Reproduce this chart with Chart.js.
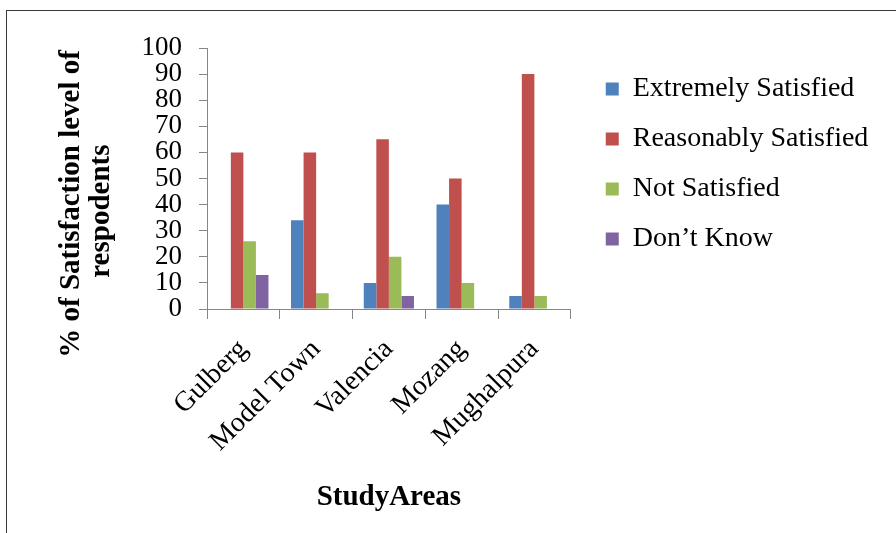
<!DOCTYPE html>
<html>
<head>
<meta charset="utf-8">
<script src="https://cdn.jsdelivr.net/npm/chart.js@4"></script>
<style>
  html, body { margin: 0; padding: 0; background: #fff; }
  #wrap { position: relative; width: 896px; height: 533px; overflow: hidden; }
  #frame { position: absolute; left: 6px; top: 10px; right: -5px; bottom: -5px;
           border-left: 1.5px solid #3a3a3a; border-top: 1.5px solid #3a3a3a; }
  canvas { position: absolute; left: 0; top: 0; }
</style>
</head>
<body>
<div id="wrap">
  <div id="frame"></div>
  <canvas id="chart" width="896" height="533"></canvas>
</div>
<script>
const areas = ['Gulberg', 'Model Town', 'Valencia', 'Mozang', 'Mughalpura'];
const extremelySatisfied = [0, 34, 10, 40, 5];
const reasonablySatisfied = [60, 60, 65, 50, 90];
const notSatisfied = [26, 6, 20, 10, 5];
const dontKnow = [13, 0, 5, 0, 0];

const serif = "'Liberation Serif', 'Times New Roman', serif";
const axisGrey = '#868686';

Chart.defaults.color = '#000';
Chart.defaults.font.family = serif;

// legend box is capped by the layout, so widen it and shift it a bit
const legendNudge = {
  id: 'legendNudge',
  afterLayout(chart) {
    chart.legend.left += 13;
    chart.legend.right = chart.width;
    chart.legend.top += 5;
  }
};

new Chart(document.querySelector('#chart').getContext('2d'), {
  type: 'bar',
  data: {
    labels: areas,
    datasets: [
      { label: 'Extremely Satisfied', data: extremelySatisfied, backgroundColor: '#4F81BD' },
      { label: 'Reasonably Satisfied', data: reasonablySatisfied, backgroundColor: '#C0504D' },
      { label: 'Not Satisfied', data: notSatisfied, backgroundColor: '#9BBB59' },
      { label: 'Don\u2019t Know', data: dontKnow, backgroundColor: '#8064A2' }
    ]
  },
  options: {
    responsive: false,
    animation: false,
    devicePixelRatio: 1,
    categoryPercentage: 0.69,
    barPercentage: 1,
    layout: { padding: { top: 48, right: 135, bottom: 0, left: 0 } },
    plugins: {
      tooltip: { enabled: false },
      legend: {
        position: 'right',
        align: 'start',
        labels: {
          boxWidth: 13,
          boxHeight: 13,
          padding: 22,
          font: { size: 28, family: serif }
        }
      }
    },
    scales: {
      x: {
        afterFit(scale) { scale.height = 224; },
        grid: { drawOnChartArea: false, offset: true, tickLength: 10, color: axisGrey },
        border: { color: axisGrey },
        ticks: {
          autoSkip: false, minRotation: 45, maxRotation: 45, padding: 14,
          font: { size: 28, family: serif }
        },
        title: {
          display: true,
          text: 'StudyAreas',
          font: { size: 29, weight: 'bold', family: serif, lineHeight: '30px' },
          padding: { top: 0, bottom: 20 }
        }
      },
      y: {
        min: 0,
        max: 100,
        afterFit(scale) { scale.width = 207; },
        grid: { drawOnChartArea: false, tickLength: 8, color: axisGrey },
        border: { color: axisGrey },
        ticks: { stepSize: 10, autoSkip: false, padding: 17, font: { size: 27, family: serif } },
        title: {
          display: true,
          text: ['% of Satisfaction level of' + ' '.repeat(7), 'respodents' + ' '.repeat(9)],
          font: { size: 29, weight: 'bold', family: serif, lineHeight: '30px' },
          padding: { top: 57, bottom: 0 }
        }
      }
    }
  },
  plugins: [legendNudge]
});
</script>
</body>
</html>
